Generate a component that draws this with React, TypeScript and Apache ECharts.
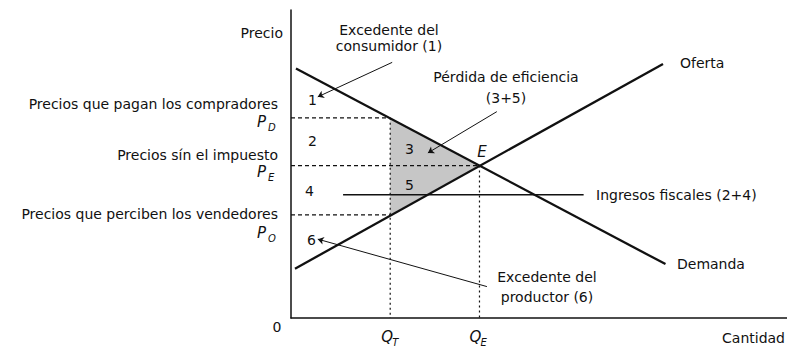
import React, { useEffect, useRef } from "react";
import * as echarts from "echarts";

// Curves (quantity, price) in chart units
const demandLine: number[][] = [[1, 81], [75.5, 17.5]];
const supplyLine: number[][] = [[0.8, 16], [75, 82.5]];
// Quantities: Q_T (with tax), Q_E (equilibrium)
const quantityValues: number[] = [20, 38];
const quantitySubs: string[] = ["T", "E"];
// Prices: P_D (buyers), P_E (no tax), P_O (sellers)
const priceValues: number[] = [65, 49.5, 33.5];
const priceSubs: string[] = ["D", "E", "O"];
const priceNames: string[] = [
  "Precios que pagan los compradores",
  "Precios sín el impuesto",
  "Precios que perciben los vendedores",
];
// Pointer lines for annotations
const taxRevenuePointer: number[][] = [[59, 40], [10.5, 40]];
const consumerPointer: number[][] = [[20.4, 83], [5.4, 71.8]];
const lossPointer: number[][] = [[41.5, 67], [27.6, 53.6]];
const producerPointer: number[][] = [[39.5, 10.2], [5.4, 25.6]];

const FONT = "'DejaVu Sans', 'Liberation Sans', sans-serif";
const INK = "#111111";

export default function App() {
  const ref = useRef<HTMLDivElement>(null);

  useEffect(() => {
    document.body.style.margin = "0";
    if (!ref.current) return;
    const chart = echarts.init(ref.current, null, { renderer: "svg" });

    const [QT, QE] = quantityValues;
    const [PD, PE, PO] = priceValues;
    const triangle = [[QT, PD], [QE, PE], [QT, PO]];

    const txt = (x: number, y: number, text: string, opts: any = {}) => ({
      type: "text",
      x,
      y,
      z: 100,
      silent: true,
      style: {
        text,
        fill: INK,
        fontFamily: FONT,
        fontSize: 14,
        align: "left",
        verticalAlign: "middle",
        ...opts,
      },
    });
    const sub = (x: number, y: number, main: string, s: string) => [
      txt(x, y, main, { fontStyle: "italic", fontSize: 15 }),
      txt(x + 11, y + 5, s, { fontStyle: "italic", fontSize: 10 }),
    ];

    const arrowLine = (pts: number[][], symbols: string[], size: number) => ({
      type: "line",
      data: [],
      silent: true,
      markLine: {
        silent: true,
        animation: false,
        symbol: symbols,
        symbolSize: size,
        label: { show: false },
        lineStyle: { color: INK, width: 1, type: "solid" },
        emphasis: { disabled: true },
        data: [[{ coord: pts[0] }, { coord: pts[1] }]],
      },
    });

    const dashed = (data: number[][], dash: number[]) => ({
      type: "line",
      data,
      symbol: "none",
      silent: true,
      z: 3,
      lineStyle: { color: INK, width: 1.2, type: dash },
    });

    chart.setOption({
      animation: false,
      backgroundColor: "#ffffff",
      grid: { left: 291, right: 0, top: 10, bottom: 32 },
      xAxis: {
        type: "value",
        min: 0,
        max: 100,
        axisLine: { show: true, lineStyle: { color: INK, width: 1.5 } },
        axisTick: { show: false },
        axisLabel: { show: false },
        splitLine: { show: false },
      },
      yAxis: {
        type: "value",
        min: 0,
        max: 100,
        axisLine: { show: true, lineStyle: { color: INK, width: 1.5 } },
        axisTick: { show: false },
        axisLabel: { show: false },
        splitLine: { show: false },
      },
      series: [
        {
          type: "custom",
          silent: true,
          z: 1,
          data: [0],
          renderItem: (_p: any, api: any) => ({
            type: "polygon",
            shape: { points: triangle.map((p) => api.coord(p)) },
            style: { fill: "#c6c6c6", stroke: "none" },
          }),
        },
        dashed([[0, PD], [QT, PD]], [4, 3]),
        dashed([[0, PE], [QE, PE]], [4, 3]),
        dashed([[0, PO], [QT, PO]], [4, 3]),
        dashed([[QT, PD], [QT, 0]], [2, 3]),
        dashed([[QE, PE], [QE, 0]], [2, 3]),
        {
          type: "line",
          data: demandLine,
          symbol: "none",
          silent: true,
          z: 5,
          lineStyle: { color: INK, width: 2.3 },
        },
        {
          type: "line",
          data: supplyLine,
          symbol: "none",
          silent: true,
          z: 5,
          lineStyle: { color: INK, width: 2.3 },
        },
        {
          type: "line",
          data: taxRevenuePointer,
          symbol: "none",
          silent: true,
          z: 4,
          lineStyle: { color: INK, width: 1.6 },
        },
        arrowLine(consumerPointer, ["none", "arrow"], 6),
        arrowLine(lossPointer, ["none", "arrow"], 6),
        arrowLine(producerPointer, ["none", "arrow"], 6),
      ],
    });

    const qx = quantityValues.map((q) => chart.convertToPixel({ gridIndex: 0 }, [q, 0])[0]);

    const graphics: any[] = [
      txt(283, 33, "Precio", { align: "right" }),
      txt(389, 38, "Excedente del\nconsumidor (1)", { align: "center", lineHeight: 16 }),
      txt(680, 63, "Oferta"),
      txt(506, 87, "Pérdida de eficiencia\n(3+5)", { align: "center", lineHeight: 21 }),
      txt(278, 104, priceNames[0], { align: "right" }),
      txt(278, 155, priceNames[1], { align: "right" }),
      txt(278, 214, priceNames[2], { align: "right" }),
      ...sub(257, 122, "P", priceSubs[0]),
      ...sub(257, 172, "P", priceSubs[1]),
      ...sub(257, 233, "P", priceSubs[2]),
      txt(308, 100, "1"),
      txt(308, 141, "2"),
      txt(405, 149, "3"),
      txt(305, 191, "4"),
      txt(405, 185, "5"),
      txt(307, 240, "6"),
      txt(482, 152, "E", { fontStyle: "italic", fontSize: 15, align: "center" }),
      txt(596, 195, "Ingresos fiscales (2+4)"),
      txt(677, 264, "Demanda"),
      txt(547, 287, "Excedente del\nproductor (6)", { align: "center", lineHeight: 20 }),
      txt(277, 327, "0", { align: "center" }),
      ...sub(qx[0] - 9, 337, "Q", quantitySubs[0]),
      ...sub(qx[1] - 10, 337, "Q", quantitySubs[1]),
      txt(785, 338, "Cantidad", { align: "right" }),
    ];
    chart.setOption({ graphic: graphics });

    return () => chart.dispose();
  }, []);

  return <div ref={ref} style={{ width: 787, height: 350 }} />;
}
